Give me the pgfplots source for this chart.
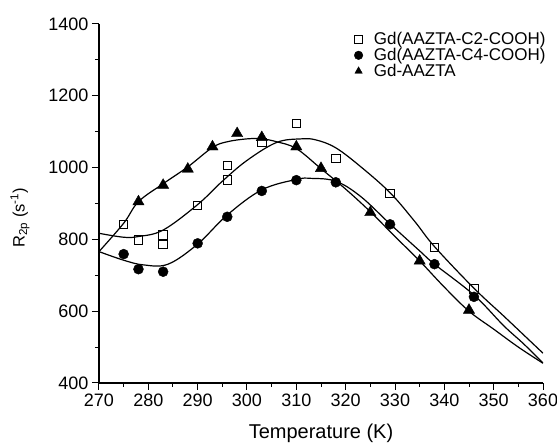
\documentclass[border=0pt]{standalone}
\usepackage{pgfplots}
\pgfplotsset{compat=1.18}
\usepackage{fontspec}
\setmainfont{Liberation Sans}

\begin{document}
\begin{tikzpicture}
\useasboundingbox (-99pt,-60pt) rectangle (458pt,383pt);
\begin{axis}[
    at={(0,0)}, anchor=south west,
    width=444pt, height=359pt, scale only axis,
    xmin=270, xmax=360,
    ymin=400, ymax=1400,
    xtick={270,280,...,360},
    ytick={400,600,...,1400},
    minor x tick num=1,
    minor y tick num=1,
    axis lines*=left,
    axis line style={line width=1.2pt},
    tick align=outside,
    major tick length=7pt,
    minor tick length=4pt,
    every tick/.style={line width=1pt, black},
    tick label style={font=\fontsize{18}{21}\selectfont},
    /pgf/number format/assume math mode=true,
    /pgf/number format/1000 sep={},
    xlabel={Temperature (K)},
    ylabel={R\textsubscript{2p} (s\textsuperscript{-1})},
    xlabel style={font=\fontsize{20}{23}\selectfont, at={(axis description cs:0.5,-0.139)}, anchor=center},
    ylabel style={font=\fontsize{16.5}{19}\selectfont, at={(axis description cs:-0.178,0.46)}, anchor=center},
    legend style={draw=none, fill=none, at={(axis description cs:1.015,0.985)}, anchor=north east,
        font=\fontsize{17}{18}\selectfont, nodes={inner sep=1pt}, row sep=0pt,
        /tikz/every odd column/.append style={column sep=10pt}},
    legend image post style={mark size=4.3pt},
    legend cell align=left,
]

% fitted curves
\addplot[black, line width=1.2pt, smooth, tension=0.6, forget plot] coordinates {
    (270,817)(275,806)(278,808)(283,826)(290,897)(295,962)(300,1020)(306,1070)
    (311,1080)(314,1077)(318,1055)(323,1003)(329,930)(334,850)(338,780)(346,664)
    (352,587)(356,535)(360,483)};
\addplot[black, line width=1.2pt, smooth, tension=0.6, forget plot] coordinates {
    (270,766)(275,742)(279,729)(284,731)(290,787)(296,868)(303,938)(310,967)
    (313,970)(318,962)(323,920)(329,843)(335,768)(338,731)(346,645)(352,560)
    (356,510)(360,456)};
\addplot[black, line width=1.2pt, smooth, tension=0.6, forget plot] coordinates {
    (270,766)(275,845)(278,905)(283,955)(288,1002)(293,1056)(296,1072)(300,1080)
    (303,1080)(306,1072)(310,1053)(315,997)(320,940)(325,877)(330,808)(335,740)
    (340,667)(345,600)(350,550)(355,500)(360,455)};

% data
\addplot[only marks, mark=square, mark size=4.2pt, line width=1pt, black] coordinates {
    (275,842)(278,798)(283,812)(283,786)(290,894)(296,1005)(296,965)(303,1070)
    (310,1123)(318,1026)(329,928)(338,777)(346,662)};
\addlegendentry{Gd(AAZTA-C2-COOH)}
\addplot[only marks, mark=*, mark size=5pt, black] coordinates {
    (275,759)(278,717)(283,710)(290,789)(296,863)(303,935)(310,965)(318,959)
    (329,842)(338,731)(346,640)};
\addlegendentry{Gd(AAZTA-C4-COOH)}
\addplot[only marks, mark=triangle*, mark size=6.5pt, black] coordinates {
    (278,905)(283,951)(288,996)(293,1058)(298,1095)(303,1084)(310,1058)(315,998)
    (325,875)(335,740)(345,603)};
\addlegendentry{Gd-AAZTA}

\end{axis}
\end{tikzpicture}
\end{document}
